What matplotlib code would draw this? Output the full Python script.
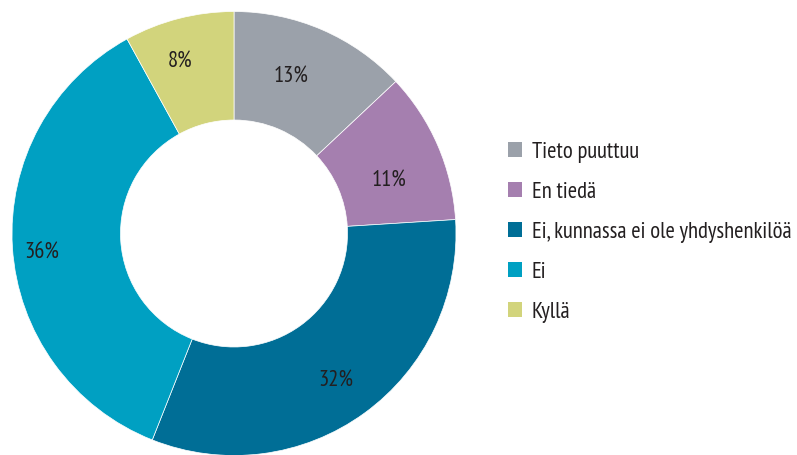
import matplotlib
matplotlib.use("Agg")
import numpy as np
import matplotlib.pyplot as plt
from matplotlib.patches import Rectangle

categories = ["Tieto puuttuu", "En tiedä", "Ei, kunnassa ei ole yhdyshenkilöä", "Ei", "Kyllä"]
values = [13, 11, 32, 36, 8]
colors = ["#9BA1AA", "#A57FAF", "#006E96", "#00A0C2", "#D2D47C"]

# label placement tweaks (radius fraction, angle offset in degrees)
label_r = [0.76, 0.74, 0.80, 0.87, 0.82]
label_da = [3.5, -4, -1, 2, 3]

plt.rcParams["font.family"] = ["PT Sans Narrow", "DejaVu Sans"]
txt_color = "#231F20"
fs = 16.3

fig = plt.figure(figsize=(7.97, 4.56), dpi=100)
ax = fig.add_axes([0, 0, 1, 1])

H = 456
cx, cy, R, r_in = 234, H - 234.5, 222, 113.5
wedges, texts, autotexts = ax.pie(
    values, colors=colors, startangle=90, counterclock=False,
    center=(cx, cy), radius=R,
    wedgeprops=dict(width=R - r_in, edgecolor="white", linewidth=0.5),
    autopct=lambda p: f"{p:.0f}%", pctdistance=0.8,
    textprops=dict(fontsize=fs, color=txt_color),
)
for w, t, rf, da in zip(wedges, autotexts, label_r, label_da):
    ang = np.deg2rad((w.theta1 + w.theta2) / 2 + da)
    t.set_position((cx + rf * R * np.cos(ang), cy + rf * R * np.sin(ang)))

ax.set_xlim(0, 797)
ax.set_ylim(0, H)
ax.set_aspect("equal")
ax.axis("off")

# legend
x0, base0, step, sq = 508, 158, 40, 14.5
for i, (lab, col) in enumerate(zip(categories, colors)):
    yb = H - (base0 + i * step)
    ax.add_patch(Rectangle((x0, yb + 0.5), sq, sq, facecolor=col, edgecolor="none"))
    ax.text(x0 + 24, yb, lab, fontsize=fs, color=txt_color, va="baseline", ha="left")

fig.savefig("out.png", dpi=100)
